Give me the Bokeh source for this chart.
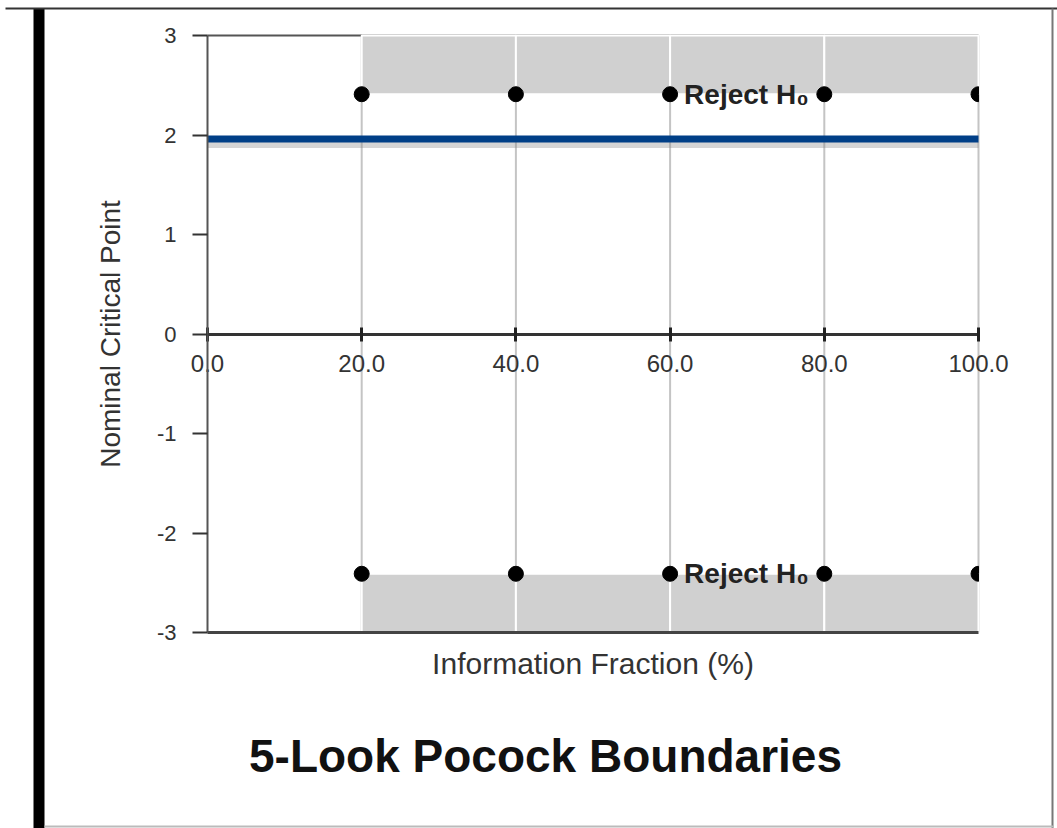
from math import pi
from bokeh.plotting import figure
from bokeh.models import (LinearAxis, FixedTicker, PrintfTickFormatter,
                          BoxAnnotation, Range1d, Label)
from bokeh.core.properties import value
from bokeh.embed import file_html
from bokeh.resources import INLINE

# ---- data ----
x_ticks = [0, 20, 40, 60, 80, 100]
y_ticks = [-3, -2, -1, 0, 1, 2, 3]
looks = [20, 40, 60, 80, 100]
upper = [2.41, 2.41, 2.41, 2.41, 2.41]
lower = [-2.41, -2.41, -2.41, -2.41, -2.41]
nominal = 1.96
label_look = 60
label_text = "Reject H\u2080"
title_text = "5-Look Pocock Boundaries"
x_label = "Information Fraction (%)"
y_label = "Nominal Critical Point"
x_min, x_max = x_ticks[0], x_ticks[-1]
y_min, y_max = y_ticks[0], y_ticks[-1]

# ---- layout (pixels) ----
W, H = 1057, 828
PL, PR, PT, PB = 207, 978, 35, 632      # plot-area edges on the canvas
sx = (PR - PL) / (x_max - x_min)
sy = (PB - PT) / (y_max - y_min)
xr = Range1d(x_min - PL / sx, x_max + (W - PR) / sx)
yr = Range1d(y_min - (H - PB) / sy, y_max + PT / sy)

FONT = "Liberation Sans"

p = figure(width=W, height=H, x_range=xr, y_range=yr,
           x_axis_type=None, y_axis_type=None,
           output_backend="svg", toolbar_location=None, min_border=0)
p.background_fill_color = "white"
p.border_fill_color = "white"
p.outline_line_color = None
p.grid.visible = False

# vertical grid lines
p.segment(x0=looks, y0=[y_min] * len(looks), x1=looks, y1=[y_max] * len(looks),
          line_color="#c4c4c4", line_width=2)

# top frame line
p.segment(x0=[x_min], y0=[y_max], x1=[x_max], y1=[y_max],
          line_color="#555555", line_width=2)

# rejection regions
n = len(looks) - 1
p.quad(left=looks[:-1], right=looks[1:], bottom=upper[:-1], top=[y_max] * n,
       fill_color="#d0d0d0", line_color="white", line_width=2)
p.quad(left=looks[:-1], right=looks[1:], bottom=[y_min] * n, top=lower[:-1],
       fill_color="#d0d0d0", line_color="white", line_width=2)

# nominal critical value line with soft shadow
p.segment(x0=[x_min], y0=[nominal - 0.06], x1=[x_max], y1=[nominal - 0.06],
          line_color="#888888", line_alpha=0.35, line_width=6)
p.segment(x0=[x_min], y0=[nominal], x1=[x_max], y1=[nominal],
          line_color="#003f87", line_width=7)

# labels
idx = looks.index(label_look)
for yv in (upper[idx], lower[idx]):
    p.text(x=[label_look], y=[yv], text=[label_text], x_offset=14,
           text_baseline="middle", text_align="left",
           text_font=value(FONT), text_font_size="28px",
           text_font_style="bold", text_color="#222222")

# boundary points (the one on the plot edge is clipped in half)
inner = [i for i, x in enumerate(looks) if x < x_max]
edge = [i for i, x in enumerate(looks) if x >= x_max]
for ys in (upper, lower):
    p.scatter([looks[i] for i in inner], [ys[i] for i in inner],
              size=15, color="black")
    p.wedge(x=[looks[i] for i in edge], y=[ys[i] for i in edge],
            radius=7.5, radius_units="screen",
            start_angle=pi / 2, end_angle=3 * pi / 2, color="black")

# left axis
ya = LinearAxis(fixed_location=x_min, bounds=(y_min, y_max),
                ticker=FixedTicker(ticks=y_ticks),
                formatter=PrintfTickFormatter(format="%d"))
ya.major_tick_in = 0
ya.major_tick_out = 15
ya.minor_tick_in = 0
ya.minor_tick_out = 0
ya.major_tick_line_color = "#333333"
ya.major_tick_line_width = 2
ya.axis_line_color = "#555555"
ya.axis_line_width = 2
ya.major_label_text_font = FONT
ya.major_label_text_font_size = "22px"
ya.major_label_text_color = "#333333"
ya.major_label_standoff = 16
ya.axis_label = y_label
ya.axis_label_text_font = FONT
ya.axis_label_text_font_size = "28px"
ya.axis_label_text_font_style = "normal"
ya.axis_label_text_color = "#333333"
ya.axis_label_standoff = 28
p.add_layout(ya, "left")

# bottom axis (frame bottom line + label)
xa = LinearAxis(fixed_location=y_min, bounds=(x_min, x_max),
                ticker=FixedTicker(ticks=[]))
xa.major_tick_in = 0
xa.major_tick_out = 0
xa.minor_tick_in = 0
xa.minor_tick_out = 0
xa.axis_line_color = "#444444"
xa.axis_line_width = 3
xa.axis_label = x_label
xa.axis_label_text_font = FONT
xa.axis_label_text_font_size = "30px"
xa.axis_label_text_font_style = "normal"
xa.axis_label_text_color = "#333333"
xa.axis_label_standoff = 14
p.add_layout(xa, "below")

# axis across y = 0
ax0 = LinearAxis(fixed_location=0, bounds=(x_min, x_max),
                 ticker=FixedTicker(ticks=x_ticks),
                 formatter=PrintfTickFormatter(format="%.1f"))
ax0.major_tick_in = 7
ax0.major_tick_out = 7
ax0.minor_tick_in = 0
ax0.minor_tick_out = 0
ax0.major_tick_line_color = "#222222"
ax0.major_tick_line_width = 3
ax0.axis_line_color = "#333333"
ax0.axis_line_width = 3
ax0.major_label_text_font = FONT
ax0.major_label_text_font_size = "24px"
ax0.major_label_text_color = "#333333"
ax0.major_label_standoff = 14
p.add_layout(ax0, "below")

# chart title
p.add_layout(Label(x=x_min + (545 - PL) / sx, y=y_min - (755 - PB) / sy,
                   text=title_text, text_align="center",
                   text_baseline="middle", text_font=FONT,
                   text_font_size="46px", text_font_style="bold",
                   text_color="#111111"))

# page decorations
def box(l, r, t, b, c):
    p.add_layout(BoxAnnotation(left=l, right=r, top=t, bottom=b,
                               left_units="canvas", right_units="canvas",
                               top_units="canvas", bottom_units="canvas",
                               fill_color=c, fill_alpha=1, line_color=None,
                               level="overlay"))

box(33, 44, 8, H, "black")
box(5, W, 7, 9, "#333333")
box(1051, 1053, 8, H, "#777777")
box(44, 1053, 825, 827, "#bbbbbb")

open("out.html", "w").write(file_html(p, INLINE))
